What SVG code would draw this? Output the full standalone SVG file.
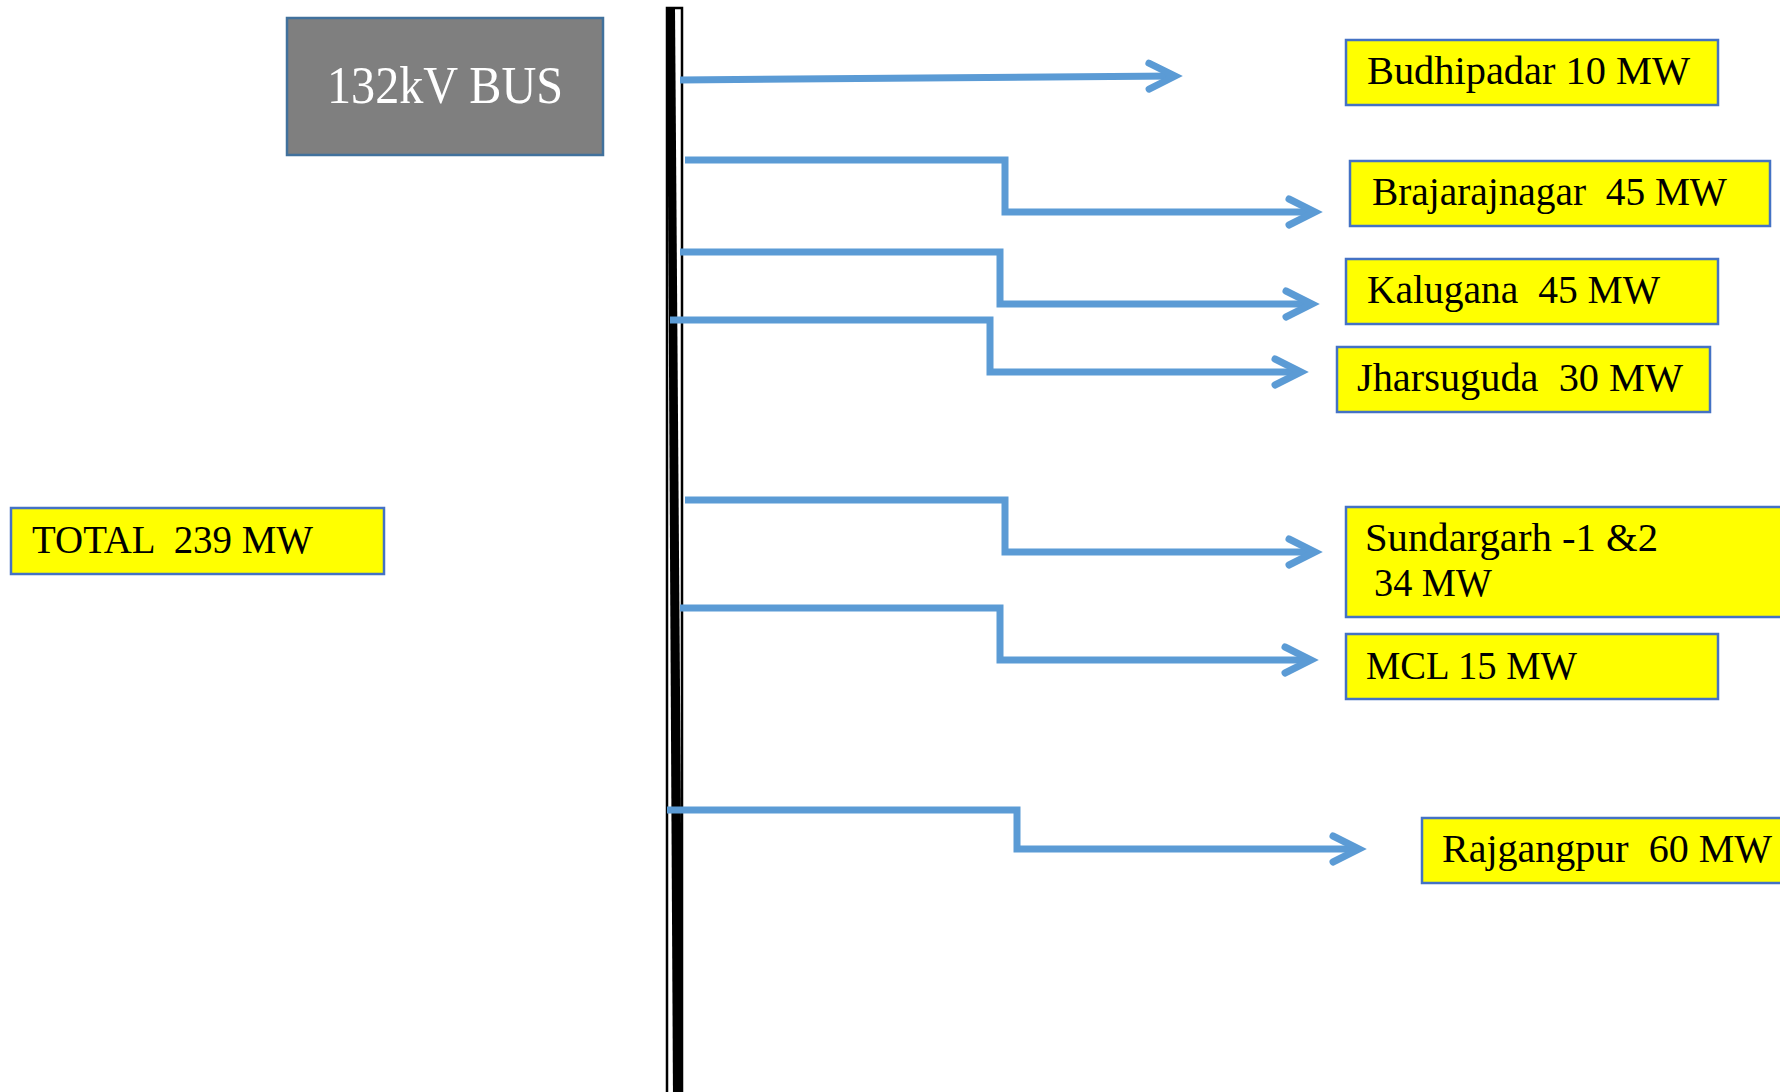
<svg xmlns="http://www.w3.org/2000/svg" width="1780" height="1092" viewBox="0 0 1780 1092">
  <style>
    .lbl { font-family: "Liberation Serif", "DejaVu Serif", serif; fill: #000; white-space: pre; }
    .box { fill: #ffff00; stroke: #4472c4; stroke-width: 2.5; }
    .feeder { fill: none; stroke: #5b9bd5; stroke-width: 7; stroke-linejoin: miter; marker-end: url(#chev); }
  </style>
  <defs>
    <marker id="chev" markerUnits="userSpaceOnUse" viewBox="-34 -20 46 40" markerWidth="46" markerHeight="40" refX="0" refY="0" orient="auto" overflow="visible">
      <path d="M-26,-13 L0,0 L-26,13" fill="none" stroke="#5b9bd5" stroke-width="7" stroke-linecap="round" stroke-linejoin="miter"/>
    </marker>
  </defs>
  <rect width="1780" height="1092" fill="#ffffff"/>

  <!-- bus bar -->
  <g id="busbar">
    <rect x="667" y="8" width="15" height="1100" fill="none" stroke="#000" stroke-width="2.5"/>
    <polygon points="667,8 675,8 683,1100 673,1100" fill="#000"/>
  </g>

  <!-- bus label -->
  <g id="bus">
    <rect x="287" y="18" width="316" height="137" fill="#7f7f7f" stroke="#41719c" stroke-width="2.5"/>
    <text x="327" y="103" class="lbl" font-size="52" fill="#ffffff" style="fill:#ffffff" textLength="236" lengthAdjust="spacingAndGlyphs">132kV BUS</text>
  </g>

  <!-- total -->
  <g id="total">
    <rect x="11" y="508" width="373" height="66" class="box"/>
    <text x="32" y="553" class="lbl" font-size="39" textLength="281" lengthAdjust="spacingAndGlyphs">TOTAL  239 MW</text>
  </g>

  <!-- feeders -->
  <g id="connectors">
    <path class="feeder" d="M680,80 L1175,76"/>
    <path class="feeder" d="M685,160 H1005 V212 H1315"/>
    <path class="feeder" d="M680,252 H1000 V304 H1312"/>
    <path class="feeder" d="M670,320 H990 V372 H1301"/>
    <path class="feeder" d="M685,500 H1005 V552 H1315"/>
    <path class="feeder" d="M680,608 H1000 V660 H1311"/>
    <path class="feeder" d="M667,810 H1017 V849 H1359"/>
  </g>

  <g id="budhipadar">
    <rect x="1346" y="40" width="372" height="65" class="box"/>
    <text x="1367" y="84" class="lbl" font-size="39" textLength="323" lengthAdjust="spacingAndGlyphs">Budhipadar 10 MW</text>
  </g>
  <g id="brajarajnagar">
    <rect x="1350" y="161" width="420" height="65" class="box"/>
    <text x="1372" y="205" class="lbl" font-size="39" textLength="355" lengthAdjust="spacingAndGlyphs">Brajarajnagar  45 MW</text>
  </g>
  <g id="kalugana">
    <rect x="1346" y="259" width="372" height="65" class="box"/>
    <text x="1367" y="303" class="lbl" font-size="39" textLength="293" lengthAdjust="spacingAndGlyphs">Kalugana  45 MW</text>
  </g>
  <g id="jharsuguda">
    <rect x="1337" y="347" width="373" height="65" class="box"/>
    <text x="1357" y="391" class="lbl" font-size="39" textLength="326" lengthAdjust="spacingAndGlyphs">Jharsuguda  30 MW</text>
  </g>
  <g id="sundargarh">
    <rect x="1346" y="507" width="450" height="110" class="box"/>
    <text x="1365" y="551" class="lbl" font-size="39" textLength="293" lengthAdjust="spacingAndGlyphs">Sundargarh -1 &amp;2</text>
    <text x="1374" y="596" class="lbl" font-size="39" textLength="118" lengthAdjust="spacingAndGlyphs">34 MW</text>
  </g>
  <g id="mcl">
    <rect x="1346" y="634" width="372" height="65" class="box"/>
    <text x="1366" y="679" class="lbl" font-size="39" textLength="211" lengthAdjust="spacingAndGlyphs">MCL 15 MW</text>
  </g>
  <g id="rajgangpur">
    <rect x="1422" y="818" width="380" height="65" class="box"/>
    <text x="1442" y="862" class="lbl" font-size="39" textLength="330" lengthAdjust="spacingAndGlyphs">Rajgangpur  60 MW</text>
  </g>
</svg>
